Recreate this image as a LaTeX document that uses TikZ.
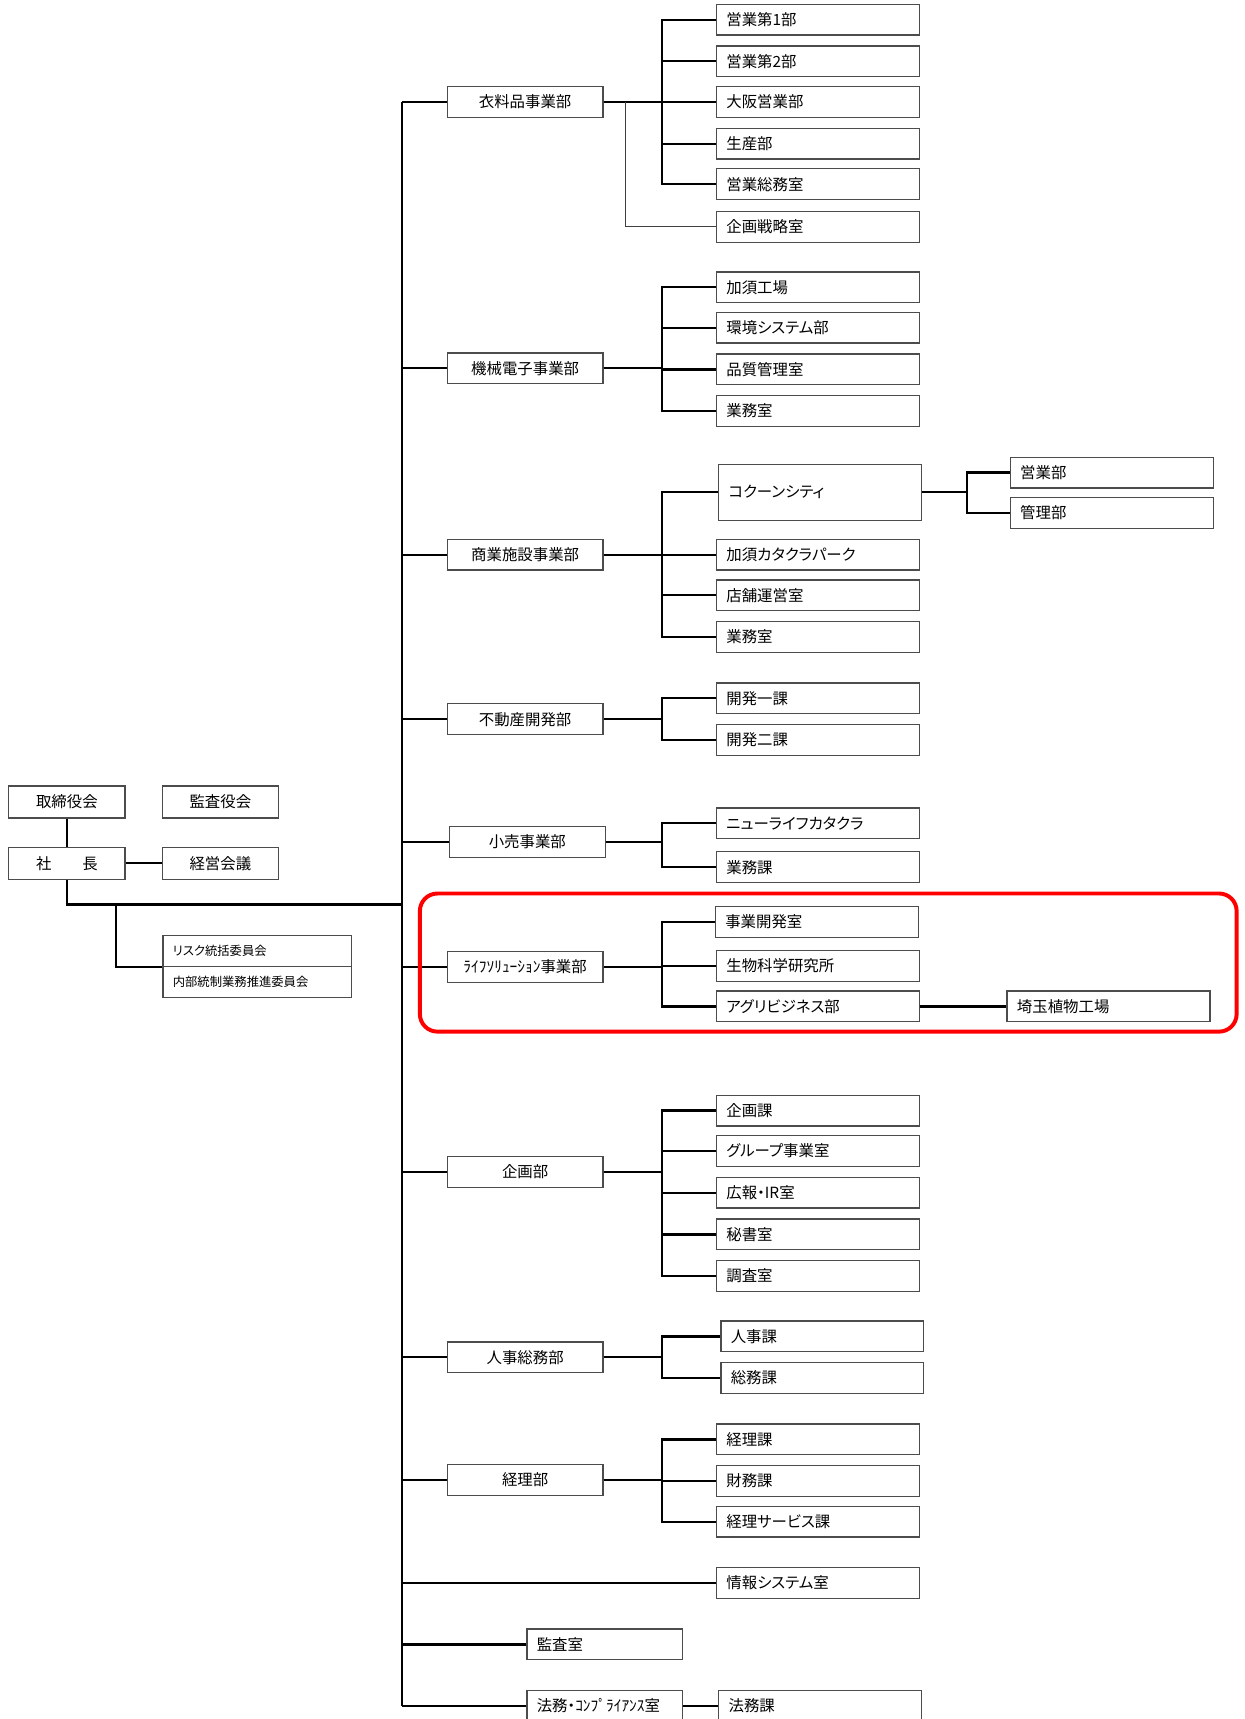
\documentclass[tikz,border=0pt]{standalone}
\usepackage{fontspec}
\newfontfamily\jp[RawFeature=+palt]{Noto Sans CJK JP}
\usepackage{tikz}

\begin{document}
\begin{tikzpicture}[x=0.25mm, y=-0.25mm,
    every node/.style={draw=black!70, line width=0.3mm, inner sep=0pt, minimum height=7mm, font=\jp\fontsize{10}{12}\selectfont},
    top/.style={minimum width=26.5mm, minimum height=7.25mm},
    dept/.style={minimum width=35.5mm},
    sect/.style={anchor=west, inner xsep=2.25mm, text width=41.75mm, align=left},
    room/.style={anchor=west, inner xsep=2.25mm, text width=31mm, align=left},
    cmte/.style={anchor=north west, inner xsep=2.25mm, text width=38.5mm, align=left, font=\jp\fontsize{8}{10}\selectfont},
    line/.style={line width=0.5mm, black}]
    \useasboundingbox (0,0) rectangle (1135,1568);

    % top management
    \node[top] (B) at (61,731.5) {取締役会};
    \node[top] (K) at (201,731.5) {監査役会};
    \node[top] (P) at (61,787.5) {社\quad\quad 長};
    \node[top] (M) at (201,787.5) {経営会議};
    \node[cmte] (R1) at (148,853) {リスク統括委員会};
    \node[cmte] (R2) at (148,881) {内部統制業務推進委員会};

    % divisions
    \node[dept] (D1) at (479,93) {衣料品事業部};
    \node[dept] (D2) at (479,336) {機械電子事業部};
    \node[dept] (D3) at (479,506) {商業施設事業部};
    \node[dept] (D4) at (479,656) {不動産開発部};
    \node[dept] (D5) at (481,768) {小売事業部};
    \node[dept] (D6) at (479,882) {ﾗｲﾌｿﾘｭｰｼｮﾝ事業部};
    \node[dept] (D7) at (479,1069) {企画部};
    \node[dept] (D8) at (479,1238) {人事総務部};
    \node[dept] (D9) at (479,1350) {経理部};
    \node[sect] (I) at (653,1444) {情報システム室};
    \node[room] (A) at (480,1500) {監査室};
    \node[room] (L) at (480,1556) {法務・ｺﾝﾌﾟﾗｲｱﾝｽ室};
    \node[sect] (L1) at (655,1556) {法務課};

    % sections
    \node[sect] (S11) at (653,18) {営業第1部};
    \node[sect] (S12) at (653,56) {営業第2部};
    \node[sect] (S13) at (653,93) {大阪営業部};
    \node[sect] (S14) at (653,131) {生産部};
    \node[sect] (S15) at (653,168) {営業総務室};
    \node[sect] (S16) at (653,207) {企画戦略室};

    \node[sect] (S21) at (653,262) {加須工場};
    \node[sect] (S22) at (653,299) {環境システム部};
    \node[sect] (S23) at (653,337) {品質管理室};
    \node[sect] (S24) at (653,375) {業務室};

    \node[sect, minimum height=12.75mm] (S31) at (655,449) {コクーンシティ};
    \node[sect] (S32) at (653,506) {加須カタクラパーク};
    \node[sect] (S33) at (653,543) {店舗運営室};
    \node[sect] (S34) at (653,581) {業務室};
    \node[sect] (S311) at (921,431) {営業部};
    \node[sect] (S312) at (921,468) {管理部};

    \node[sect] (S41) at (653,637) {開発一課};
    \node[sect] (S42) at (653,675) {開発二課};

    \node[sect] (S51) at (653,751) {ニューライフカタクラ};
    \node[sect] (S52) at (653,791) {業務課};

    \node[sect] (S61) at (652,841) {事業開発室};
    \node[sect] (S62) at (653,881) {生物科学研究所};
    \node[sect] (S63) at (653,918) {アグリビジネス部};
    \node[sect] (S631) at (918,918) {埼玉植物工場};

    \node[sect] (S71) at (653,1013) {企画課};
    \node[sect] (S72) at (653,1050) {グループ事業室};
    \node[sect] (S73) at (653,1088) {広報・IR室};
    \node[sect] (S74) at (653,1126) {秘書室};
    \node[sect] (S75) at (653,1164) {調査室};

    \node[sect] (S81) at (657,1219) {人事課};
    \node[sect] (S82) at (657,1257) {総務課};

    \node[sect] (S91) at (653,1313) {経理課};
    \node[sect] (S92) at (653,1351) {財務課};
    \node[sect] (S93) at (653,1388) {経理サービス課};

    % trunk
    \coordinate (T0) at (367,93);
    \coordinate (T1) at (367,1556);
    \coordinate (J) at (367,825);
    \coordinate (Q) at (106,825);
    \draw[line] (T0) -- (T1);
    \draw[line] (B.south) -- (P.north);
    \draw[line] (P.east) -- (M.west);
    \draw[line] (P.south) |- (J);
    \draw[line] (Q) |- (R1.south west);

    \draw[line] (D1.west) -- (D1.west -| T0);
    \draw[line] (D2.west) -- (D2.west -| T0);
    \draw[line] (D3.west) -- (D3.west -| T0);
    \draw[line] (D4.west) -- (D4.west -| T0);
    \draw[line] (D5.west) -- (D5.west -| T0);
    \draw[line] (D6.west) -- (D6.west -| T0);
    \draw[line] (D7.west) -- (D7.west -| T0);
    \draw[line] (D8.west) -- (D8.west -| T0);
    \draw[line] (D9.west) -- (D9.west -| T0);
    \draw[line] (I.west) -- (I.west -| T0);
    \draw[line] (A.west) -- (A.west -| T0);
    \draw[line] (L.west) -- (L.west -| T0);
    \draw[line] (L.east) -- (L1.west);

    % branches
    \draw[line] (D1.east) -- ++(53,0) |- (S11.west);
    \draw[line] (D1.east) -- ++(53,0) |- (S12.west);
    \draw[line] (D1.east) -- (S13.west);
    \draw[line] (D1.east) -- ++(53,0) |- (S14.west);
    \draw[line] (D1.east) -- ++(53,0) |- (S15.west);
    \draw[black!75, line width=0.25mm] (D1.east) ++(20,0) |- (S16.west);

    \draw[line] (D2.east) -- ++(53,0) |- (S21.west);
    \draw[line] (D2.east) -- ++(53,0) |- (S22.west);
    \draw[line] (D2.east) -- ++(53,0) |- (S23.west);
    \draw[line] (D2.east) -- ++(53,0) |- (S24.west);

    \draw[line] (D3.east) -- ++(53,0) |- (S31.west);
    \draw[line] (D3.east) -- ++(53,0) |- (S32.west);
    \draw[line] (D3.east) -- ++(53,0) |- (S33.west);
    \draw[line] (D3.east) -- ++(53,0) |- (S34.west);
    \draw[line] (S31.east) -- ++(41,0) |- (S311.west);
    \draw[line] (S31.east) -- ++(41,0) |- (S312.west);

    \draw[line] (D4.east) -- ++(53,0) |- (S41.west);
    \draw[line] (D4.east) -- ++(53,0) |- (S42.west);

    \draw[line] (D5.east) -- ++(51,0) |- (S51.west);
    \draw[line] (D5.east) -- ++(51,0) |- (S52.west);

    \draw[line] (D6.east) -- ++(53,0) |- (S61.west);
    \draw[line] (D6.east) -- ++(53,0) |- (S62.west);
    \draw[line] (D6.east) -- ++(53,0) |- (S63.west);
    \draw[line] (S63.east) -- (S631.west);

    \draw[line] (D7.east) -- ++(53,0) |- (S71.west);
    \draw[line] (D7.east) -- ++(53,0) |- (S72.west);
    \draw[line] (D7.east) -- ++(53,0) |- (S73.west);
    \draw[line] (D7.east) -- ++(53,0) |- (S74.west);
    \draw[line] (D7.east) -- ++(53,0) |- (S75.west);

    \draw[line] (D8.east) -- ++(53,0) |- (S81.west);
    \draw[line] (D8.east) -- ++(53,0) |- (S82.west);

    \draw[line] (D9.east) -- ++(53,0) |- (S91.west);
    \draw[line] (D9.east) -- ++(53,0) |- (S92.west);
    \draw[line] (D9.east) -- ++(53,0) |- (S93.west);

    % highlight
    \draw[red, line width=0.9mm, rounded corners=4mm] (383,815) rectangle (1128,941);
\end{tikzpicture}
\end{document}
